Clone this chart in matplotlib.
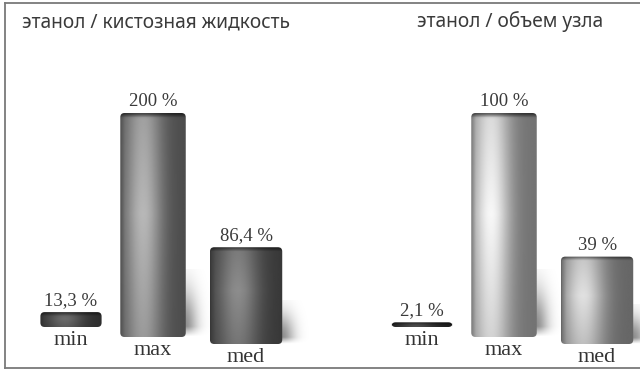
import numpy as np
import matplotlib
matplotlib.use("Agg")
import matplotlib.pyplot as plt
from matplotlib.patches import FancyBboxPatch
from matplotlib.lines import Line2D

# ethanol share per panel, percent
titles = ["этанол / кистозная жидкость", "этанол / объем узла"]
categories = ["min", "max", "med"]
cyst_values = [13.3, 200.0, 86.4]
node_values = [2.1, 100.0, 39.0]
cyst_labels = ["13,3 %", "200 %", "86,4 %"]
node_labels = ["2,1 %", "100 %", "39 %"]

# layout of the pseudo-3D bars (perspective: bars step forward and down)
XPOS = [0.0, 0.965, 2.06]
WIDTHS = [0.72, 0.77, 0.85]
LIFT_PX = [10, 0, -7]          # baseline shift in pixels
BAR_PX = 224                   # pixel height of the tallest bar
PX_X = 85                      # pixels per x unit

# (dark, light, highlight position) per bar
cyst_tones = [(0.18, 0.42, 0.40), (0.30, 0.72, 0.35), (0.22, 0.55, 0.38)]
node_tones = [(0.12, 0.35, 0.40), (0.45, 0.97, 0.30), (0.40, 0.88, 0.30)]


def shaded_bar(ax, rect, vmax, tones):
    dark, light, peak = tones
    x0, y0 = rect.get_x(), rect.get_y()
    w, h = rect.get_width(), rect.get_height()
    u = np.linspace(0, 1, 80)
    v = np.linspace(0, 1, 120)[:, None]
    prof = np.exp(-((u - peak) / 0.30) ** 2)
    rim = np.clip(np.minimum(u, 1 - u) / 0.07, 0, 1) ** 0.6
    vert = 1.0 - 0.25 * np.abs(v - 0.55) * 2
    img = dark + (light - dark) * prof[None, :] * rim[None, :] * vert
    # darker top edge for the lid
    cap = np.clip((1 - v) / (4.0 / max(h * BAR_PX / vmax, 4.0)), 0, 1)
    img = img * (0.45 + 0.55 * cap)
    aspect = vmax / BAR_PX * PX_X
    clip = FancyBboxPatch((x0, y0), w, h, boxstyle="round,pad=0,rounding_size=0.05",
                          mutation_aspect=aspect, transform=ax.transData,
                          facecolor="none", edgecolor="none")
    ax.add_patch(clip)
    im = ax.imshow(img, cmap="gray", vmin=0, vmax=1, origin="lower", aspect="auto",
                   extent=(x0, x0 + w, y0, y0 + h), zorder=3, interpolation="bilinear")
    im.set_clip_path(clip)

    # soft shadow cast to the right, only for the taller bars
    h_px = h * BAR_PX / vmax
    if h_px < 40:
        return
    sw = 0.32
    sh = min(h * 0.45, vmax * 0.30)
    su = np.linspace(0, 1, 60)
    sv = np.linspace(0, 1, 60)[:, None]
    horiz = np.exp(-(su[None, :] / 0.45) ** 2)
    vert_s = np.clip(sv / 0.15, 0, 1) * np.exp(-((sv - 0.15) / 0.55) ** 2)
    shadow = np.zeros((60, 60, 4))
    shadow[..., 3] = 0.45 * horiz * vert_s
    ax.imshow(shadow, origin="lower", aspect="auto", zorder=2,
              extent=(x0 + w - 0.02, x0 + w + sw, y0, y0 + sh),
              interpolation="bilinear")


fig = plt.figure(figsize=(6.4, 3.71), dpi=100)
fig.patch.set_facecolor("white")

panels = [
    (cyst_values, cyst_labels, cyst_tones, [0.0, 0.0, 0.5, 1.0], (-71 / PX_X, 249 / PX_X)),
    (node_values, node_labels, node_tones, [0.5, 0.0, 0.5, 1.0], (-102 / PX_X, 218 / PX_X)),
]

for (values, labels, tones, pos, xlim) in panels:
    ax = fig.add_axes(pos)
    vmax = max(values)
    bottoms = [lp * vmax / BAR_PX for lp in LIFT_PX]
    bars = ax.bar(XPOS, values, width=WIDTHS, bottom=bottoms,
                  color="none", edgecolor="none")
    for rect, tone in zip(bars, tones):
        shaded_bar(ax, rect, vmax, tone)
    for x, v, b, lab, cat in zip(XPOS, values, bottoms, labels, categories):
        ax.annotate(lab, (x, b + v), xytext=(0, 2), textcoords="offset points",
                    ha="center", va="bottom", fontsize=13.5, color="#3a3a3a",
                    family="Liberation Serif", zorder=5)
        ax.annotate(cat, (x, b), xytext=(0, -3), textcoords="offset points",
                    ha="center", va="top", fontsize=16, color="#333333",
                    family="Liberation Serif", zorder=5)
    ax.set_xlim(*xlim)
    ax.set_ylim(-34 / BAR_PX * vmax, 337 / BAR_PX * vmax)
    ax.axis("off")

fig.text(22 / 640, 1 - 22 / 371, titles[0], ha="left", va="center",
         fontsize=13.8, color="#3a3a3a", family="Noto Sans")
fig.text(417 / 640, 1 - 22 / 371, titles[1], ha="left", va="center",
         fontsize=13.8, color="#3a3a3a", family="Noto Sans")

# thin frame (top, left, bottom)
frame = dict(color="#7a7a7a", lw=1.3, transform=fig.transFigure)
fig.add_artist(Line2D([5 / 640, 1], [1 - 2.5 / 371] * 2, **frame))
fig.add_artist(Line2D([5 / 640] * 2, [3 / 371, 1 - 2.5 / 371], **frame))
fig.add_artist(Line2D([5 / 640, 1], [3 / 371] * 2, **frame))

fig.savefig("out.png", dpi=100, facecolor="white")
